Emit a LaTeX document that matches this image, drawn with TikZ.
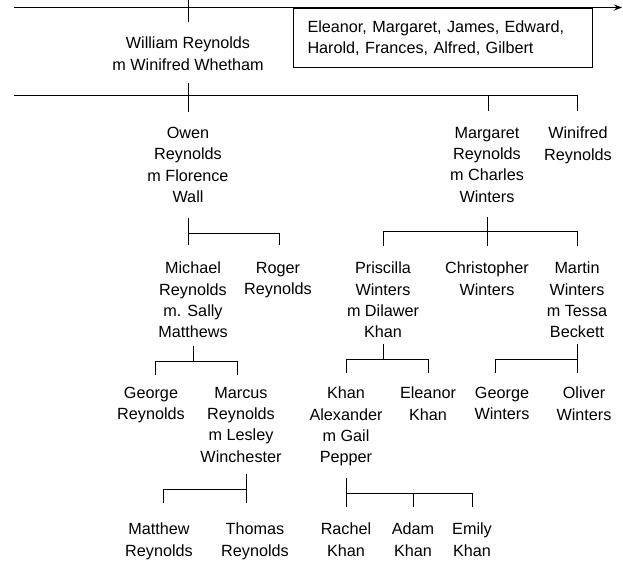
\documentclass[tikz,border=0pt]{standalone}
\usepackage{fontspec}
\setmainfont{Liberation Sans}
\usetikzlibrary{arrows.meta}

\begin{document}
\begin{tikzpicture}[x=1pt,y=-1pt,
  person/.style={align=center, anchor=north, inner sep=0pt,
    font=\fontsize{16.2}{21.3}\selectfont},
  siblingbox/.style={draw, line width=1pt, anchor=north west, inner xsep=14pt,
    inner ysep=0pt, minimum width=299pt, minimum height=59pt, text width=271pt,
    align=left, font=\fontsize{16.2}{21.5}\selectfont},
  link/.style={line width=1pt}]
\useasboundingbox (0,0) rectangle (623,561);

% people
\node[person] (william)     at (188,37)  {William Reynolds\\m Winifred Whetham};
\node[siblingbox] (siblings) at (293,8)  {Eleanor, Margaret, James, Edward,\\Harold, Frances, Alfred, Gilbert};

\node[person] (owen)        at (188,127) {Owen\\Reynolds\\m Florence\\Wall};
\node[person] (margaret)    at (487,127) {Margaret\\Reynolds\\m Charles\\Winters};
\node[person] (winifred)    at (578,127) {Winifred\\Reynolds};

\node[person] (michael)     at (193,262) {Michael\\Reynolds\\m. Sally\\Matthews};
\node[person] (roger)       at (278,262) {Roger\\Reynolds};
\node[person] (priscilla)   at (383,262) {Priscilla\\Winters\\m Dilawer\\Khan};
\node[person] (christopher) at (487,262) {Christopher\\Winters};
\node[person] (martin)      at (577,262) {Martin\\Winters\\m Tessa\\Beckett};

\node[person] (georgeR)     at (151,387) {George\\Reynolds};
\node[person] (marcus)      at (241,387) {Marcus\\Reynolds\\m Lesley\\Winchester};
\node[person] (khanA)       at (346,387) {Khan\\Alexander\\m Gail\\Pepper};
\node[person] (eleanorK)    at (428,387) {Eleanor\\Khan};
\node[person] (georgeW)     at (502,387) {George\\Winters};
\node[person] (oliver)      at (584,387) {Oliver\\Winters};

\node[person] (matthew)     at (159,523) {Matthew\\Reynolds};
\node[person] (thomas)      at (255,523) {Thomas\\Reynolds};
\node[person] (rachel)      at (346,523) {Rachel\\Khan};
\node[person] (adam)        at (413,523) {Adam\\Khan};
\node[person] (emily)       at (472,523) {Emily\\Khan};

% generation lines
\coordinate (timeStart) at (14,7.5);
\coordinate (timeEnd)   at (622,7.5);
\coordinate (wTop)      at (188,0);
\coordinate (wTopEnd)   at (188,22);
\coordinate (wStem)     at (188,83);
\coordinate (wStemEnd)  at (188,112);
\coordinate (genStart)  at (14,96);
\coordinate (genEnd)    at (577,96);
\coordinate (winTick)   at (577,111);
\coordinate (marTop)    at (488,96);
\coordinate (marTick)   at (488,111);

\draw[link,-{Stealth[length=8pt,width=6pt]}] (timeStart) -- (timeEnd);
\draw[link] (wTop) -- (wTopEnd);
\draw[link] (wStem) -- (wStemEnd);
\draw[link] (genStart) -- (genEnd) -- (winTick);
\draw[link] (marTop) -- (marTick);

% Owen's children
\coordinate (oStem) at (188,218);
\coordinate (oBar)  at (188,234);
\coordinate (oEnd)  at (188,245);
\coordinate (oR)    at (279,234);
\coordinate (oRT)   at (279,245);
\draw[link] (oStem) -- (oEnd);
\draw[link] (oBar) -- (oR) -- (oRT);

% Margaret's children
\coordinate (mStem) at (487,217);
\coordinate (mEnd)  at (487,246);
\coordinate (mLT)   at (383,246);
\coordinate (mL)    at (383,232);
\coordinate (mR)    at (577,232);
\coordinate (mRT)   at (577,246);
\draw[link] (mStem) -- (mEnd);
\draw[link] (mLT) -- (mL) -- (mR) -- (mRT);

% Michael's children
\coordinate (miStem) at (193,346);
\coordinate (miBar)  at (193,361);
\coordinate (miLT)   at (155,375);
\coordinate (miL)    at (155,361);
\coordinate (miR)    at (237,361);
\coordinate (miRT)   at (237,375);
\draw[link] (miStem) -- (miBar);
\draw[link] (miLT) -- (miL) -- (miR) -- (miRT);

% Priscilla's children
\coordinate (pStem) at (383,344);
\coordinate (pBar)  at (383,359);
\coordinate (pLT)   at (346,373);
\coordinate (pL)    at (346,359);
\coordinate (pR)    at (428,359);
\coordinate (pRT)   at (428,373);
\draw[link] (pStem) -- (pBar);
\draw[link] (pLT) -- (pL) -- (pR) -- (pRT);

% Martin's children
\coordinate (maStem) at (577,344);
\coordinate (maEnd)  at (577,373);
\coordinate (maBar)  at (577,359);
\coordinate (maL)    at (495,359);
\coordinate (maLT)   at (495,373);
\draw[link] (maStem) -- (maEnd);
\draw[link] (maBar) -- (maL) -- (maLT);

% Marcus's children
\coordinate (mcStem) at (246,474);
\coordinate (mcEnd)  at (246,503);
\coordinate (mcBar)  at (246,489);
\coordinate (mcL)    at (163,489);
\coordinate (mcLT)   at (163,503);
\draw[link] (mcStem) -- (mcEnd);
\draw[link] (mcBar) -- (mcL) -- (mcLT);

% Khan Alexander's children
\coordinate (kStem) at (346,478);
\coordinate (kEnd)  at (346,507);
\coordinate (kBar)  at (346,493);
\coordinate (kR)    at (472,493);
\coordinate (kRT)   at (472,507);
\coordinate (kM)    at (413,493);
\coordinate (kMT)   at (413,507);
\draw[link] (kStem) -- (kEnd);
\draw[link] (kBar) -- (kR) -- (kRT);
\draw[link] (kM) -- (kMT);
\end{tikzpicture}
\end{document}
